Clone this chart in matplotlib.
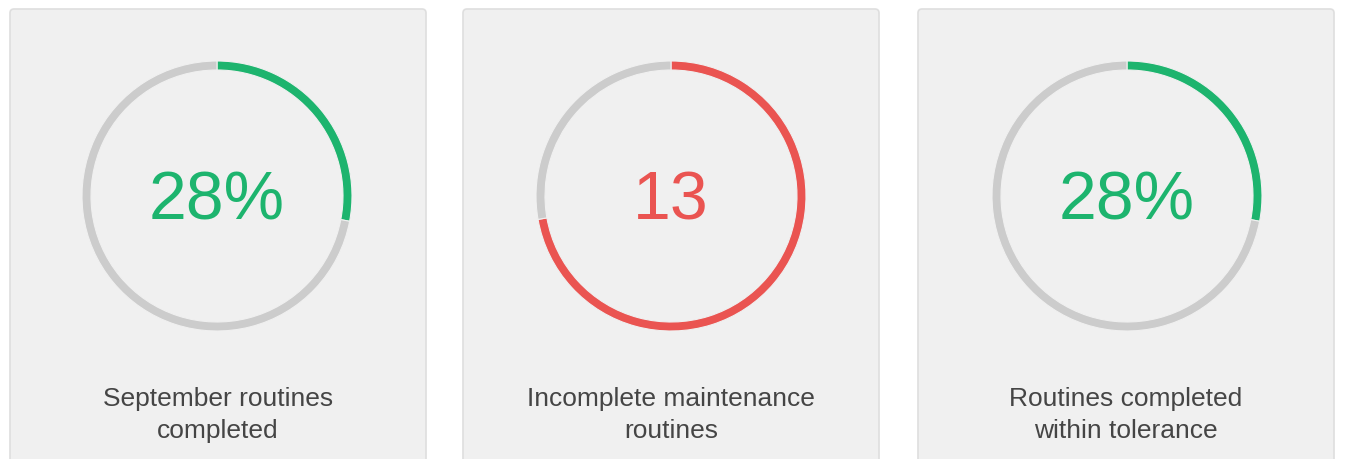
import matplotlib
matplotlib.use("Agg")
import matplotlib.pyplot as plt
from matplotlib.patches import FancyBboxPatch

# data
labels = ["September routines\ncompleted", "Incomplete maintenance\nroutines", "Routines completed\nwithin tolerance"]
display_text = ["28%", "13", "28%"]
values = [28, 13, 28]
totals = [100, 18, 100]
colors = ["#1db46e", "#ea5451", "#1db46e"]

track_color = "#cccccc"
card_bg = "#f0f0f0"

plt.rcParams["font.family"] = ["Liberation Sans", "DejaVu Sans"]

W, H = 1346, 459
fig = plt.figure(figsize=(W / 100, H / 100), dpi=100)
fig.patch.set_facecolor("white")

# background axes in pixel coords for the cards
bg = fig.add_axes([0, 0, 1, 1])
bg.set_xlim(0, W)
bg.set_ylim(H, 0)
bg.axis("off")

card_left = [10, 463, 918]
card_w = 416
ring_cx = [217, 671, 1127]
ring_cy = 196
ring_r = 135

for i in range(3):
    card = FancyBboxPatch((card_left[i], 9), card_w, 470,
                          boxstyle="round,pad=0,rounding_size=4",
                          facecolor=card_bg, edgecolor="#dedede", linewidth=1.2)
    bg.add_patch(card)
    bg.text(card_left[i] + card_w / 2, 415, labels[i], ha="center", va="center",
            fontsize=19, color="#454545", linespacing=1.38)

    # ring
    ax = fig.add_axes([(ring_cx[i] - ring_r) / W, 1 - (ring_cy + ring_r) / H,
                       2 * ring_r / W, 2 * ring_r / H])
    ax.pie([values[i], totals[i] - values[i]], colors=[colors[i], track_color],
           startangle=90, counterclock=False, radius=1,
           wedgeprops=dict(width=9 / ring_r, edgecolor=card_bg, linewidth=0.8))
    ax.set_xlim(-1, 1)
    ax.set_ylim(-1, 1)
    ax.set_aspect("equal")
    ax.axis("off")
    ax.text(0, -0.04, display_text[i], ha="center", va="center",
            fontsize=49, color=colors[i])

fig.savefig("out.png", dpi=100, facecolor="white")
